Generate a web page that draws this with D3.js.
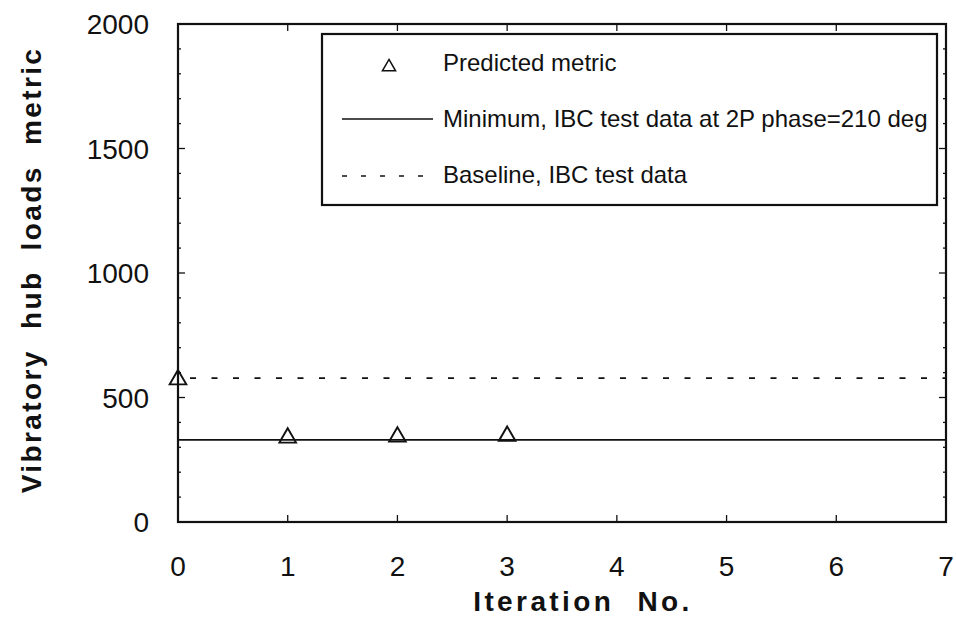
<!DOCTYPE html>
<html>
<head>
<meta charset="utf-8">
<script src="https://cdn.jsdelivr.net/npm/d3@7"></script>
<style>
  body { margin: 0; background: #fff; }
  text { font-family: "Liberation Sans", Arial, Helvetica, sans-serif; fill: #111; }
</style>
</head>
<body>
<div id="chart"></div>
<script>
// data
const iterations = [0, 1, 2, 3]
const predicted = [572, 338, 342, 345]
const minimumIBC = 330
const baselineIBC = 578
const xTicks = [0, 1, 2, 3, 4, 5, 6, 7]
const yTicks = [0, 500, 1000, 1500, 2000]
const legendLabels = ["Predicted metric", "Minimum, IBC test data at 2P phase=210 deg", "Baseline, IBC test data"]

const width = 956, height = 618
const margin = { left: 178, right: 10, top: 24, bottom: 96 }

const svg = d3.select("#chart").append("svg")
    .attr("width", width)
    .attr("height", height)

const x = d3.scaleLinear().domain([0, 7]).range([margin.left, width - margin.right])
const y = d3.scaleLinear().domain([0, 2000]).range([height - margin.bottom, margin.top])

const x0 = x.range()[0], x1 = x.range()[1]
const y0 = y.range()[0], y1 = y.range()[1]

// minor ticks every 100 on y
const yMinor = d3.range(0, 2001, 100).filter(v => v % 500 !== 0)

const tickG = svg.append("g").attr("stroke", "#111").attr("stroke-width", 1.3)
// left / right ticks
yMinor.forEach(v => {
    tickG.append("line").attr("x1", x0).attr("x2", x0 + 3).attr("y1", y(v)).attr("y2", y(v))
    tickG.append("line").attr("x1", x1).attr("x2", x1 - 3).attr("y1", y(v)).attr("y2", y(v))
})
yTicks.forEach(v => {
    tickG.append("line").attr("x1", x0).attr("x2", x0 + 7).attr("y1", y(v)).attr("y2", y(v))
    tickG.append("line").attr("x1", x1).attr("x2", x1 - 7).attr("y1", y(v)).attr("y2", y(v))
})
xTicks.forEach(v => {
    tickG.append("line").attr("x1", x(v)).attr("x2", x(v)).attr("y1", y0).attr("y2", y0 - 7)
    tickG.append("line").attr("x1", x(v)).attr("x2", x(v)).attr("y1", y1).attr("y2", y1 + 7)
})

// tick labels
svg.append("g").selectAll("text")
    .data(yTicks)
    .enter()
    .append("text")
    .attr("x", x0 - 29)
    .attr("y", d => y(d))
    .attr("dy", "0.36em")
    .attr("text-anchor", "end")
    .style("font-size", "28px")
    .text(d => d)

svg.append("g").selectAll("text")
    .data(xTicks)
    .enter()
    .append("text")
    .attr("x", d => x(d))
    .attr("y", y0 + 54)
    .attr("text-anchor", "middle")
    .style("font-size", "28px")
    .text(d => d)

// axis titles
svg.append("text")
    .attr("x", 583)
    .attr("y", 611)
    .attr("text-anchor", "middle")
    .style("font-size", "28px")
    .style("font-weight", "bold")
    .style("letter-spacing", "3.4px")
    .style("word-spacing", "12px")
    .text("Iteration No.")

svg.append("text")
    .attr("transform", `translate(41, 270) rotate(-90)`)
    .attr("text-anchor", "middle")
    .style("font-size", "28px")
    .style("font-weight", "bold")
    .style("letter-spacing", "2.4px")
    .style("word-spacing", "10px")
    .text("Vibratory hub loads metric")

// reference lines
svg.append("line")
    .attr("x1", x0).attr("x2", x1)
    .attr("y1", y(minimumIBC)).attr("y2", y(minimumIBC))
    .attr("stroke", "#111").attr("stroke-width", 1.6)

svg.append("line")
    .attr("x1", x0 + 12).attr("x2", x1)
    .attr("y1", y(baselineIBC)).attr("y2", y(baselineIBC))
    .attr("stroke", "#111").attr("stroke-width", 1.6)
    .attr("stroke-dasharray", "6 15.5")

// predicted triangles
const tri = d3.symbol().type(d3.symbolTriangle).size(120)
svg.append("g").selectAll("path")
    .data(iterations)
    .enter()
    .append("path")
    .attr("d", tri)
    .attr("transform", (d, i) => `translate(${x(d)}, ${y(predicted[i])})`)
    .attr("fill", "none")
    .attr("stroke", "#111")
    .attr("stroke-width", 1.9)

// frame
svg.append("rect")
    .attr("x", x0).attr("y", y1)
    .attr("width", x1 - x0).attr("height", y0 - y1)
    .attr("fill", "none").attr("stroke", "#111").attr("stroke-width", 2.2)

// legend
const lg = svg.append("g")
lg.append("rect")
    .attr("x", 322).attr("y", 34)
    .attr("width", 615).attr("height", 171)
    .attr("fill", "#fff").attr("stroke", "#111").attr("stroke-width", 2.2)

lg.append("path")
    .attr("d", d3.symbol().type(d3.symbolTriangle).size(75))
    .attr("transform", "translate(389, 67)")
    .attr("fill", "none").attr("stroke", "#111").attr("stroke-width", 1.5)
lg.append("line")
    .attr("x1", 342).attr("x2", 433).attr("y1", 119).attr("y2", 119)
    .attr("stroke", "#111").attr("stroke-width", 1.3)
lg.append("line")
    .attr("x1", 342).attr("x2", 436).attr("y1", 176).attr("y2", 176)
    .attr("stroke", "#111").attr("stroke-width", 1.3)
    .attr("stroke-dasharray", "5 14")

lg.selectAll("text.lbl")
    .data(legendLabels)
    .enter()
    .append("text")
    .attr("class", "lbl")
    .attr("x", 443)
    .attr("y", (d, i) => [62, 118, 174][i])
    .attr("dy", "0.36em")
    .style("font-size", "24px")
    .text(d => d)
</script>
</body>
</html>
